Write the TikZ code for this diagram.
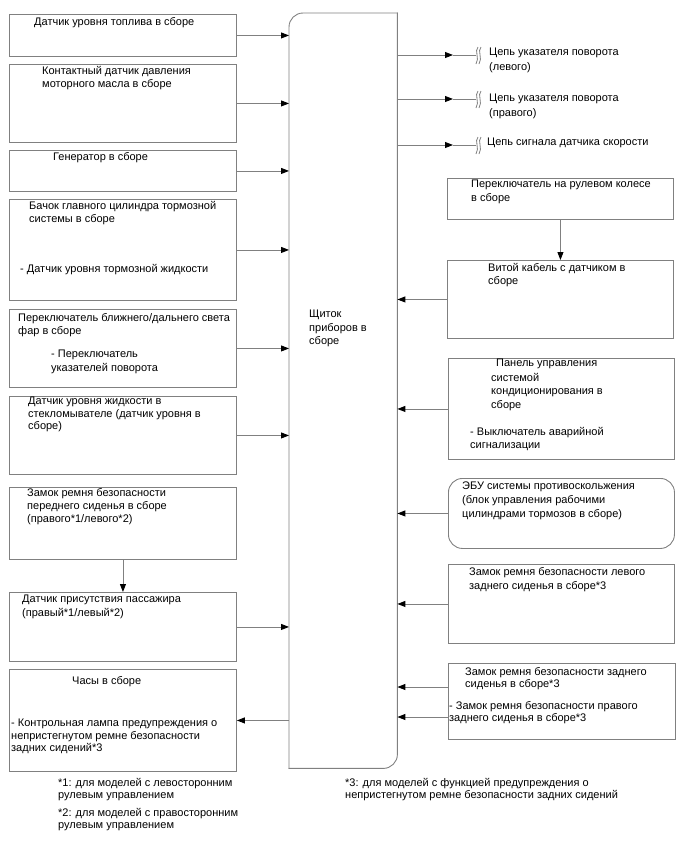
\documentclass[tikz,border=0pt]{standalone}
\usepackage{fontspec}
\setmainfont{Liberation Sans}
\usetikzlibrary{arrows.meta}
\definecolor{linegray}{HTML}{808080}
\begin{document}
\begin{tikzpicture}[x=1pt,y=-1pt,
  box/.style={draw=linegray, line width=0.9pt, rectangle, inner sep=0pt, anchor=north west},
  txt/.style={anchor=north west, inner sep=0pt, align=left, font=\fontsize{11}{13.5}\selectfont},
  otxt/.style={txt, font=\fontsize{11}{15}\selectfont},
  conn/.style={draw=linegray, line width=0.9pt, -{Triangle[length=8pt,width=6pt,fill=black,color=black]}},
  plain/.style={draw=linegray, line width=0.9pt},
  brk/.style={draw=linegray, line width=0.8pt}
]
\useasboundingbox (0,0) rectangle (688,852);
% central block
\node[inner sep=0pt, minimum width=108pt, minimum height=755pt, anchor=north west] (cb) at (289,13) {};
\draw[plain, rounded corners=14pt, line cap=rect] (cb.south west) -- (cb.north west) -- (cb.north east);
\draw[plain, rounded corners=14pt, line cap=rect] (cb.north east) -- (cb.south east) -- (cb.south west);
\node[txt] (ct) at (309,310) {Щиток\\приборов в\\сборе};

% left boxes
\node[box, minimum width=227pt, minimum height=42pt] (b1) at (9,14) {};
\node[box, minimum width=227pt, minimum height=78pt] (b2) at (9,64) {};
\node[box, minimum width=227pt, minimum height=41pt] (b3) at (9,150) {};
\node[box, minimum width=227pt, minimum height=101pt] (b4) at (9,199) {};
\node[box, minimum width=227pt, minimum height=78pt] (b5) at (9,309) {};
\node[box, minimum width=227pt, minimum height=78pt] (b6) at (9,396) {};
\node[box, minimum width=227pt, minimum height=72pt] (b7) at (9,487) {};
\node[box, minimum width=227pt, minimum height=69pt] (b8) at (9,592) {};
\node[box, minimum width=227pt, minimum height=102pt] (b9) at (9,669) {};

\node[txt] (t1) at (34,17) {Датчик уровня топлива в сборе};
\node[txt] (t2) at (42,66) {Контактный датчик давления\\моторного масла в сборе};
\node[txt] (t3) at (53,152) {Генератор в сборе};
\node[txt] (t4a) at (29,201) {Бачок главного цилиндра тормозной\\системы в сборе};
\node[txt] (t4b) at (20,264) {- Датчик уровня тормозной жидкости};
\node[txt] (t5a) at (18,313) {Переключатель ближнего/дальнего света\\фар в сборе};
\node[txt] (t5b) at (51,350) {- Переключатель\\указателей поворота};
\node[txt, font=\fontsize{11}{12.5}\selectfont] (t6) at (28,397) {Датчик уровня жидкости в\\стекломывателе (датчик уровня в\\сборе)};
\node[txt, font=\fontsize{11}{13}\selectfont] (t7) at (27,488) {Замок ремня безопасности\\переднего сиденья в сборе\\(правого*1/левого*2)};
\node[txt] (t8) at (22,595) {Датчик присутствия пассажира\\(правый*1/левый*2)};
\node[txt] (t9a) at (72,676) {Часы в сборе};
\node[txt, font=\fontsize{11}{12.5}\selectfont] (t9b) at (11,719) {- Контрольная лампа предупреждения о\\непристегнутом ремне безопасности\\задних сидений*3};

% footnotes
\node[txt, font=\fontsize{11}{12.5}\selectfont] (f1) at (58,778) {*1: для моделей с левосторонним\\рулевым управлением};
\node[txt, font=\fontsize{11}{12.5}\selectfont] (f2) at (58,808) {*2: для моделей с правосторонним\\рулевым управлением};
\node[txt, font=\fontsize{11}{12.5}\selectfont] (f3) at (345,778) {*3: для моделей с функцией предупреждения о\\непристегнутом ремне безопасности задних сидений};

% left connectors
\foreach \b in {b1,b2,b3,b4,b5,b6,b8}
  \draw[conn] (\b.east) -- (\b.east -| cb.west);
\draw[conn] (b7.south) -- (b8.north);
\draw[conn] (b9.east -| cb.west) -- (b9.east);

% right boxes
\node[box, minimum width=226pt, minimum height=41pt] (r1) at (447,178) {};
\node[box, minimum width=226pt, minimum height=78pt] (r2) at (447,260) {};
\node[box, minimum width=226pt, minimum height=101pt] (r3) at (448,358) {};
\node[box, rounded corners=14pt, minimum width=226pt, minimum height=70pt] (r4) at (448,478) {};
\node[box, minimum width=226pt, minimum height=79pt] (r5) at (448,564) {};
\node[box, minimum width=227pt, minimum height=76pt] (r6) at (448,663) {};

\node[txt] (r1t) at (471,180) {Переключатель на рулевом колесе\\в сборе};
\node[txt] (r2t) at (488,263) {Витой кабель с датчиком в\\сборе};
\node[txt] (r3a) at (496,359) {Панель управления};
\node[txt] (r3b) at (491,373) {системой\\кондиционирования в\\сборе};
\node[txt] (r3c) at (470,427) {- Выключатель аварийной\\сигнализации};
\node[txt, font=\fontsize{11}{14}\selectfont] (r4t) at (462,482) {ЭБУ системы противоскольжения\\(блок управления рабочими\\цилиндрами тормозов в сборе)};
\node[txt, font=\fontsize{11}{14}\selectfont] (r5t) at (469,567) {Замок ремня безопасности левого\\заднего сиденья в сборе*3};
\node[txt, font=\fontsize{11}{12.5}\selectfont] (r6a) at (465,667) {Замок ремня безопасности заднего\\сиденья в сборе*3};
\node[txt, font=\fontsize{11}{12}\selectfont] (r6b) at (449,701) {- Замок ремня безопасности правого\\заднего сиденья в сборе*3};

% right connectors
\draw[conn] (r1.south) -- (r2.north);
\foreach \r in {r2,r3,r4,r5}
  \draw[conn] (\r.west) -- (\r.west -| cb.east);
\coordinate (r6p) at (448,687);
\coordinate (r6q) at (448,717);
\draw[conn] (r6p) -- (r6p -| cb.east);
\draw[conn] (r6q) -- (r6q -| cb.east);

% outputs with breaks
\foreach \n/\y in {1/55,2/99,3/145} {
  \coordinate (om\n) at (453,\y);
  \coordinate (oe\n) at (476,\y);
  \draw[conn] (om\n -| cb.east) -- (om\n);
  \draw[plain] (om\n) -- (oe\n);
  \draw[brk] (478,\y-8) .. controls (474,\y-4) and (480,\y+3) .. (476,\y+9);
  \draw[brk] (481,\y-8) .. controls (477,\y-4) and (483,\y+3) .. (479,\y+9);
}
\node[otxt] (o1t) at (489,48) {Цепь указателя поворота\\(левого)};
\node[otxt] (o2t) at (489,94) {Цепь указателя поворота\\(правого)};
\node[otxt] (o3t) at (487,138) {Цепь сигнала датчика скорости};
\end{tikzpicture}
\end{document}
